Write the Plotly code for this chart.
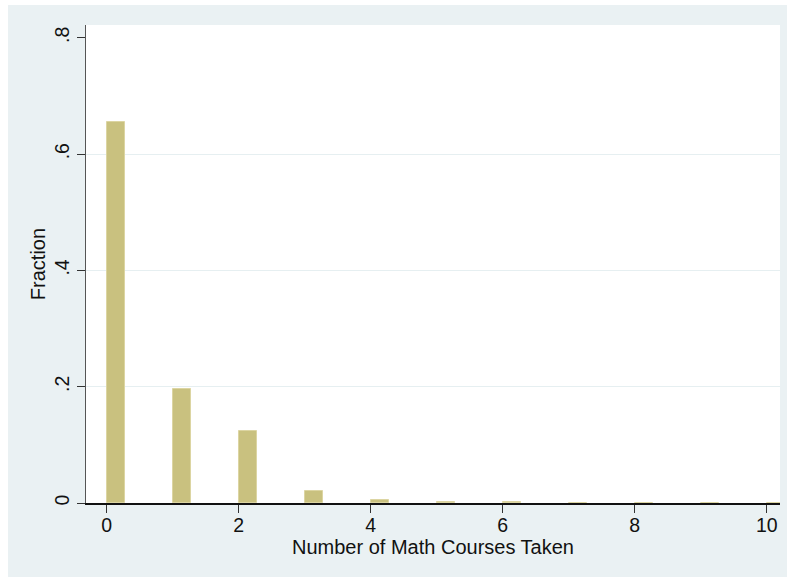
import plotly.graph_objects as go

# Distribution of number of math courses taken (fraction of students)
courses = [0, 1, 2, 3, 4, 5, 6, 7, 8, 9, 10]
fraction = [0.655, 0.196, 0.124, 0.021, 0.0045, 0.0012, 0.0009, 0.0008, 0.0007, 0.0006, 0.0005]

x_ticks = [0, 2, 4, 6, 8, 10]
y_ticks = [0, 0.2, 0.4, 0.6, 0.8]
y_tick_text = ["0", ".2", ".4", ".6", ".8"]
grid_ticks = [0.2, 0.4, 0.6]

BG = "#EAF1F3"
FONT = "Liberation Sans, Arial, Helvetica, sans-serif"
Y_RANGE = [0, 0.822]

W, H = 787, 577
ML, MR, MT, MB = 86, 7, 25, 74
pw, ph = W - ML - MR, H - MT - MB

fig = go.Figure()
fig.add_trace(go.Bar(
    x=courses, y=fraction,
    width=0.275, offset=0,
    marker=dict(color="#C9C17F", line=dict(color="#DCD5A2", width=1)),
    hoverinfo="x+y",
))
# invisible trace carrying the grid-only overlay axis
fig.add_trace(go.Scatter(x=[courses[0]], y=[fraction[0]], yaxis="y2",
                         mode="markers", marker=dict(opacity=0),
                         hoverinfo="skip"))

# white margins around the shaded graph region (top and left strips)
shapes = [
    dict(type="rect", xref="paper", yref="paper", layer="below",
         x0=-ML / pw, x1=-(ML - 8) / pw, y0=-MB / ph, y1=(ph + MT) / ph,
         fillcolor="white", line=dict(width=0)),
    dict(type="rect", xref="paper", yref="paper", layer="below",
         x0=-ML / pw, x1=(pw + MR) / pw, y0=(ph + MT - 5) / ph, y1=(ph + MT) / ph,
         fillcolor="white", line=dict(width=0)),
]

fig.update_layout(
    width=W, height=H,
    margin=dict(l=ML, r=MR, t=MT, b=MB, pad=0),
    paper_bgcolor=BG, plot_bgcolor="white",
    font=dict(family=FONT, size=20, color="#111111"),
    showlegend=False, bargap=0,
    shapes=shapes,
    xaxis=dict(
        range=[-0.314, 10.2], tickvals=x_ticks,
        ticks="outside", ticklen=8, tickwidth=1, tickcolor="#333333",
        ticklabelstandoff=-4,
        showgrid=False, zeroline=False,
        showline=True, linecolor="#111111", linewidth=1.5,
        title=dict(text="Number of Math Courses Taken", standoff=2,
                   font=dict(size=20)),
        tickfont=dict(size=19.5),
    ),
    yaxis=dict(
        range=Y_RANGE, tickvals=y_ticks, ticktext=y_tick_text,
        tickangle=-90,
        ticks="outside", ticklen=8, tickwidth=1, tickcolor="#333333",
        showgrid=False, zeroline=False,
        showline=True, linecolor="#555555", linewidth=1,
        title=dict(text="Fraction", standoff=0, font=dict(size=20)),
        tickfont=dict(size=19.5),
    ),
    yaxis2=dict(
        range=Y_RANGE, overlaying="y", side="left",
        tickvals=grid_ticks, showticklabels=False, ticks="",
        showgrid=True, gridcolor="#E6EFF1", gridwidth=1,
        zeroline=False, showline=False, layer="below traces",
    ),
)

fig.write_html("out.html")
